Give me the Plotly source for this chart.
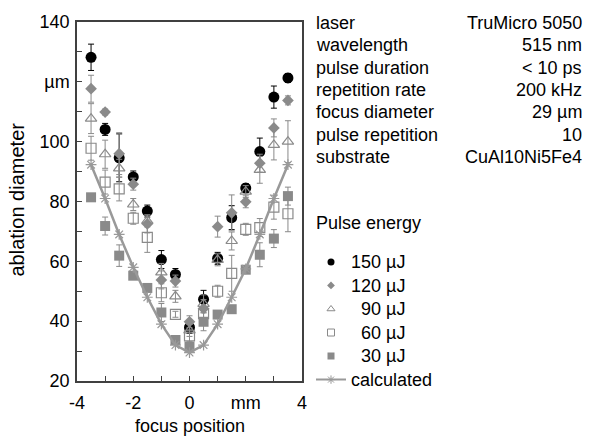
import plotly.graph_objects as go

# ---------------- data ----------------
focus = [-3.5, -3, -2.5, -2, -1.5, -1, -0.5, 0, 0.5, 1, 1.5, 2, 2.5, 3, 3.5]

e150 = [128.2, 104.1, 94.6, 88.2, 76.8, 60.6, 55.6, 37.9, 47.3, 61.0, 74.6, 84.5, 96.7, 114.9, 121.3]
e150_err = [4.4, 2.0, 8.0, 2.0, 2.0, 3.0, 2.0, 2.0, 3.0, 2.0, 4.0, 1.5, 4.5, 3.7, 1.5]

e120 = [117.7, 109.9, 96.0, 85.8, 72.5, 53.8, 53.4, 39.8, 44.2, 71.6, 76.2, 79.9, 92.8, 104.6, 113.8]
e120_err = [4.5, 1.0, 7.0, 2.0, 3.0, 3.0, 2.0, 2.0, 3.0, 3.5, 6.0, 2.0, 3.0, 3.0, 1.5]

e90 = [107.7, 95.8, 91.1, 79.0, 73.5, 56.3, 48.3, 36.9, 45.8, 60.5, 66.8, 83.3, 90.6, 98.9, 100.0]
e90_err = [5.0, 4.7, 3.0, 2.0, 2.0, 3.0, 2.0, 2.0, 3.0, 2.0, 3.0, 2.0, 4.5, 5.0, 7.0]

e60 = [97.8, 86.5, 84.2, 74.4, 68.0, 49.5, 42.3, 35.1, 42.5, 50.0, 56.0, 70.7, 71.3, 78.1, 75.9]
e60_err = [4.0, 4.0, 4.0, 2.0, 5.0, 3.0, 1.0, 2.0, 2.0, 2.0, 6.0, 2.0, 3.0, 4.0, 6.0]

e30 = [81.4, 71.8, 61.9, 55.2, 51.1, 42.9, 33.7, 31.5, 39.8, 42.2, 44.0, 57.2, 62.2, 67.6, 81.8]
e30_err = [1.0, 3.0, 3.6, 1.0, 1.0, 3.0, 1.0, 1.0, 3.0, 1.0, 1.0, 1.0, 4.0, 3.0, 3.0]

calculated = [92.3, 81.0, 69.0, 58.0, 48.0, 39.0, 32.0, 29.5, 32.0, 39.0, 48.0, 57.5, 69.0, 81.0, 92.3]

series_names = ["150 µJ", "120 µJ", "\u00a0\u00a090 µJ", "\u00a0\u00a060 µJ", "\u00a0\u00a030 µJ", "calculated"]

x_tickvals = [-4, -3, -2, -1, 0, 1, 2, 3, 4]
x_ticktext = ["-4", "", "-2", "", "0", "", "mm", "", "4"]
y_tickvals = [20, 30, 40, 50, 60, 70, 80, 90, 100, 110, 120, 130, 140]
y_ticktext = ["20", "", "40", "", "60", "", "80", "", "100", "", "µm", "", "140"]

info_labels = ["laser", "wavelength", "pulse duration", "repetition rate",
               "focus diameter", "pulse repetition", "substrate"]
info_values = ["TruMicro 5050", "515 nm", "< 10 ps", "200 kHz",
               "29 µm", "10", "CuAl10Ni5Fe4"]

# ---------------- layout helpers ----------------
W, H = 589, 437
L, R, T, B = 77, 302, 19, 381   # plot area in pixels
FONT = "Liberation Sans, Arial, sans-serif"
GREY = "#8a8a8a"


def px(xp):
    return (xp - L) / (R - L)


def py(yp):
    return (B - yp) / (B - T)


fig = go.Figure()

styles = [
    dict(symbol="circle", size=11, color="black"),
    dict(symbol="diamond", size=9, color=GREY),
    dict(symbol="triangle-up-open", size=10, color=GREY, line=dict(color=GREY, width=1.2)),
    dict(symbol="square-open", size=10, color=GREY, line=dict(color=GREY, width=1.2)),
    dict(symbol="square", size=10, color=GREY),
]
legend_styles = [
    dict(symbol="circle", size=7, color="black"),
    dict(symbol="diamond", size=6, color=GREY),
    dict(symbol="triangle-up-open", size=7, color=GREY, line=dict(color=GREY, width=1)),
    dict(symbol="square-open", size=7, color=GREY, line=dict(color=GREY, width=1)),
    dict(symbol="square", size=7, color=GREY),
]
data_sets = [(e150, e150_err), (e120, e120_err), (e90, e90_err), (e60, e60_err), (e30, e30_err)]
err_colors = ["black", GREY, GREY, GREY, GREY]

for (vals, errs), st, ec in zip(data_sets, styles, err_colors):
    fig.add_trace(go.Scatter(
        x=focus, y=vals, mode="markers", marker=st, showlegend=False,
        error_y=dict(type="data", array=errs, color=ec, thickness=1, width=3),
        cliponaxis=False,
    ))

fig.add_trace(go.Scatter(
    x=focus, y=calculated, mode="lines+markers", showlegend=False,
    line=dict(color="#999999", width=2.5),
    marker=dict(symbol="asterisk-open", size=9, line=dict(color="#999999", width=1.2)),
))


def big(s):
    return '<span style="font-size:18px">' + s + "</span>"


# legend entries
for name, st in zip(series_names[:5], legend_styles):
    fig.add_trace(go.Scatter(x=[None], y=[None], mode="markers", marker=st, name=big(name)))
fig.add_trace(go.Scatter(
    x=[None], y=[None], mode="lines+markers", name=big(series_names[5]),
    line=dict(color="#999999", width=2),
    marker=dict(symbol="asterisk-open", size=7, line=dict(color="#999999", width=1)),
))

annotations = []
for i, (lab, val) in enumerate(zip(info_labels, info_values)):
    yc = 20 + i * 22.5
    annotations.append(dict(x=px(314), y=py(yc), xref="paper", yref="paper", text=lab,
                            showarrow=False, xanchor="left", yanchor="middle",
                            font=dict(size=18, color="black", family=FONT)))
    annotations.append(dict(x=px(584), y=py(yc), xref="paper", yref="paper", text=val,
                            showarrow=False, xanchor="right", yanchor="middle",
                            font=dict(size=18, color="black", family=FONT)))
annotations.append(dict(x=px(314), y=py(222), xref="paper", yref="paper", text="Pulse energy",
                        showarrow=False, xanchor="left", yanchor="middle",
                        font=dict(size=18, color="black", family=FONT)))
annotations.append(dict(x=px(17), y=py(198), xref="paper", yref="paper", text="ablation diameter",
                        showarrow=False, xanchor="center", yanchor="middle", textangle=-90,
                        font=dict(size=20, color="black", family=FONT)))
annotations.append(dict(x=px(190), y=py(426), xref="paper", yref="paper", text="focus position",
                        showarrow=False, xanchor="center", yanchor="middle",
                        font=dict(size=18, color="black", family=FONT)))

fig.update_layout(
    width=W, height=H,
    margin=dict(l=L, r=W - R, t=T, b=H - B, pad=0),
    paper_bgcolor="white", plot_bgcolor="white",
    font=dict(family=FONT, size=18, color="black"),
    showlegend=True,
    legend=dict(x=px(311), y=py(244), xanchor="left", yanchor="top",
                bgcolor="rgba(0,0,0,0)", font=dict(size=15.8, family=FONT, color="black"),
                tracegroupgap=0, itemwidth=30, borderwidth=0),
    annotations=annotations,
    xaxis=dict(range=[-4, 4], tickvals=x_tickvals, ticktext=x_ticktext,
               ticks="inside", ticklen=5, tickcolor="#404040", tickwidth=1,
               showline=True, linecolor="#404040", linewidth=1.5, mirror=True,
               showgrid=False, zeroline=False, ticklabelstandoff=5,
               tickfont=dict(size=18)),
    yaxis=dict(range=[20, 140], tickvals=y_tickvals, ticktext=y_ticktext,
               ticks="inside", ticklen=5, tickcolor="#404040", tickwidth=1,
               showline=True, linecolor="#404040", linewidth=1.5, mirror=True,
               showgrid=False, zeroline=False, ticklabelstandoff=2,
               tickfont=dict(size=18)),
)

fig.write_html("out.html")
